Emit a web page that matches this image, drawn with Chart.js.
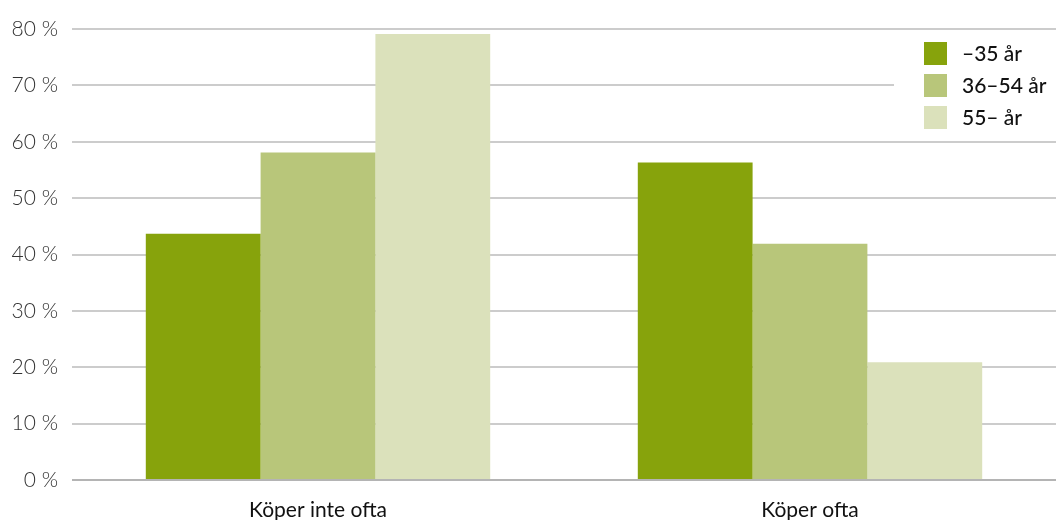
<!DOCTYPE html>
<html>
<head>
<meta charset="utf-8">
<script src="https://cdn.jsdelivr.net/npm/chart.js@4/dist/chart.umd.min.js"></script>
<style>
  html, body { margin: 0; padding: 0; background: #fff; }
  #wrap { width: 1056px; height: 520px; }
</style>
</head>
<body>
<div id="wrap"><canvas id="c" width="1056" height="520"></canvas></div>
<script>
// Purchase frequency by age group (share of respondents, %)
const categories = ['Köper inte ofta', 'Köper ofta'];
const seriesNames = ['–35 år', '36–54 år', '55– år'];
const under35 = [43.7, 56.3];
const age36to54 = [58.1, 41.9];
const over55 = [79.1, 20.9];
const yTicks = [0, 10, 20, 30, 40, 50, 60, 70, 80];

const colors = ['#87a30c', '#b8c67a', '#dbe1bb'];
const FONT = 'Lato, "Open Sans", sans-serif';

// Legend box drawn inside the plot area, top right, on a white panel
const insetLegend = {
  id: 'insetLegend',
  afterDatasetsDraw(chart) {
    const ctx = chart.ctx;
    const area = chart.chartArea;
    const panelX = area.right - 162;
    ctx.save();
    ctx.fillStyle = '#ffffff';
    ctx.fillRect(panelX, area.top + 7, 162, 102);
    ctx.font = '500 21px ' + FONT;
    ctx.textBaseline = 'middle';
    ctx.textAlign = 'left';
    chart.data.datasets.forEach((ds, i) => {
      const y = area.top + 13 + i * 32;
      ctx.fillStyle = ds.backgroundColor;
      ctx.fillRect(area.right - 132, y, 23, 23);
      ctx.fillStyle = '#111';
      ctx.fillText(ds.label, area.right - 94, y + 12);
    });
    ctx.restore();
  }
};

new Chart(document.getElementById('c'), {
  type: 'bar',
  data: {
    labels: categories,
    datasets: [
      { label: seriesNames[0], data: under35, backgroundColor: colors[0] },
      { label: seriesNames[1], data: age36to54, backgroundColor: colors[1] },
      { label: seriesNames[2], data: over55, backgroundColor: colors[2] }
    ]
  },
  options: {
    responsive: false,
    animation: false,
    devicePixelRatio: 1,
    layout: { padding: { top: 29, right: 0, left: 0, bottom: 0 } },
    datasets: { bar: { categoryPercentage: 0.7, barPercentage: 1.0, borderWidth: 0 } },
    plugins: {
      legend: { display: false },
      tooltip: { enabled: false }
    },
    scales: {
      x: {
        grid: { display: false, drawTicks: false },
        border: { display: false },
        ticks: { color: '#111', font: { family: FONT, size: 21 }, padding: 18 },
        afterFit(axis) { axis.height = 40; }
      },
      y: {
        min: 0,
        max: 80,
        afterBuildTicks(axis) { axis.ticks = yTicks.map(v => ({ value: v })); },
        grid: {
          drawTicks: false,
          lineWidth: 2,
          color: ctx => ctx.tick && ctx.tick.value === 0 ? '#b4b4b4' : '#cccccc'
        },
        border: { display: false },
        ticks: {
          color: '#333',
          font: { family: FONT, size: 21, weight: 300 },
          padding: 14,
          callback: v => v + ' %'
        },
        afterFit(axis) { axis.width = 72; }
      }
    }
  },
  plugins: [insetLegend]
});
</script>
</body>
</html>
